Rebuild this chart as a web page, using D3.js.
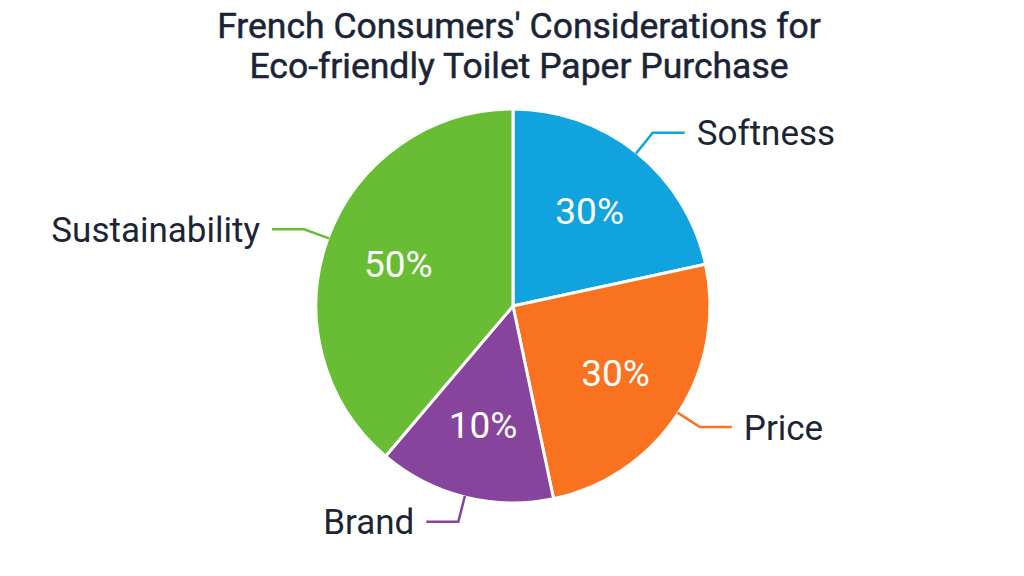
<!DOCTYPE html>
<html>
<head>
<meta charset="utf-8">
<script src="https://cdn.jsdelivr.net/npm/d3@7"></script>
<style>
	body { margin: 0; background: #fff; }
	svg { display: block; font-family: Roboto, "Noto Sans", sans-serif; }
</style>
</head>
<body>
<svg id="chart" width="1024" height="576"></svg>
<script>
// categories clockwise from 12 o'clock
var categories = ["Softness", "Price", "Brand", "Sustainability"];
// slice sizes as drawn in the picture (angle share, %)
var shares = [21.6, 25.1, 14.5, 38.8];
// percentages printed on the slices
var pctLabels = ["30%", "30%", "10%", "50%"];
var colors = ["#11a3de", "#f8721f", "#86449c", "#68bd35"];

var titleLines = ["French Consumers' Considerations for", "Eco-friendly Toilet Paper Purchase"];

var svg = d3.select('#chart');
var cx = 513, cy = 306, R = 197;

svg.append('g')
	.selectAll('text')
	.data(titleLines)
	.enter().append('text')
	.attr('x', 519)
	.attr('y', function(d, i) { return 38 + i * 40; })
	.attr('text-anchor', 'middle')
	.attr('font-size', 35.5)
	.attr('fill', '#1b2437')
	.attr('stroke', '#1b2437')
	.attr('stroke-width', 0.5)
	.text(function(d) { return d; });

var items = categories.map(function(c, i) {
	return {name: c, value: shares[i], pct: pctLabels[i], color: colors[i]};
});

var pie = d3.pie()
	.sort(null)
	.value(function(d) { return d.value; });

var arc = d3.arc().innerRadius(0).outerRadius(R);
var arcs = pie(items);

var g = svg.append('g').attr('transform', 'translate(' + cx + ',' + cy + ')');

g.selectAll('path')
	.data(arcs)
	.enter().append('path')
	.attr('d', arc)
	.attr('fill', function(d) { return d.data.color; })
	.attr('stroke', '#fff')
	.attr('stroke-width', 3)
	.attr('stroke-linejoin', 'round');

var labelArc = d3.arc().innerRadius(R * 0.62).outerRadius(R * 0.62);

g.selectAll('text.pct')
	.data(arcs)
	.enter().append('text')
	.attr('class', 'pct')
	.attr('transform', function(d) { return 'translate(' + labelArc.centroid(d) + ')'; })
	.attr('text-anchor', 'middle')
	.attr('dy', '0.36em')
	.attr('font-size', 37)
	.attr('fill', '#fff')
	.text(function(d) { return d.data.pct; });

function midAngle(d) { return (d.startAngle + d.endAngle) / 2; }
function polar(a, r) { return [Math.sin(a) * r, -Math.cos(a) * r]; }

// leader lines: edge -> elbow -> horizontal
arcs.forEach(function(d) {
	var a = midAngle(d);
	var side = Math.sin(a) > 0 ? 1 : -1;
	var p0 = polar(a, R - 1);
	var p1 = polar(a, R * 1.13);
	var p2 = [p1[0] + side * 32, p1[1]];
	g.append('polyline')
		.attr('points', [p0, p1, p2].map(function(p) { return p.join(','); }).join(' '))
		.attr('fill', 'none')
		.attr('stroke', d.data.color)
		.attr('stroke-width', 2.5);
	g.append('text')
		.attr('x', p2[0] + side * 12)
		.attr('y', p2[1])
		.attr('dy', '0.36em')
		.attr('text-anchor', side > 0 ? 'start' : 'end')
		.attr('font-size', 35)
		.attr('fill', '#1c2536')
		.text(d.data.name);
});
</script>
</body>
</html>
